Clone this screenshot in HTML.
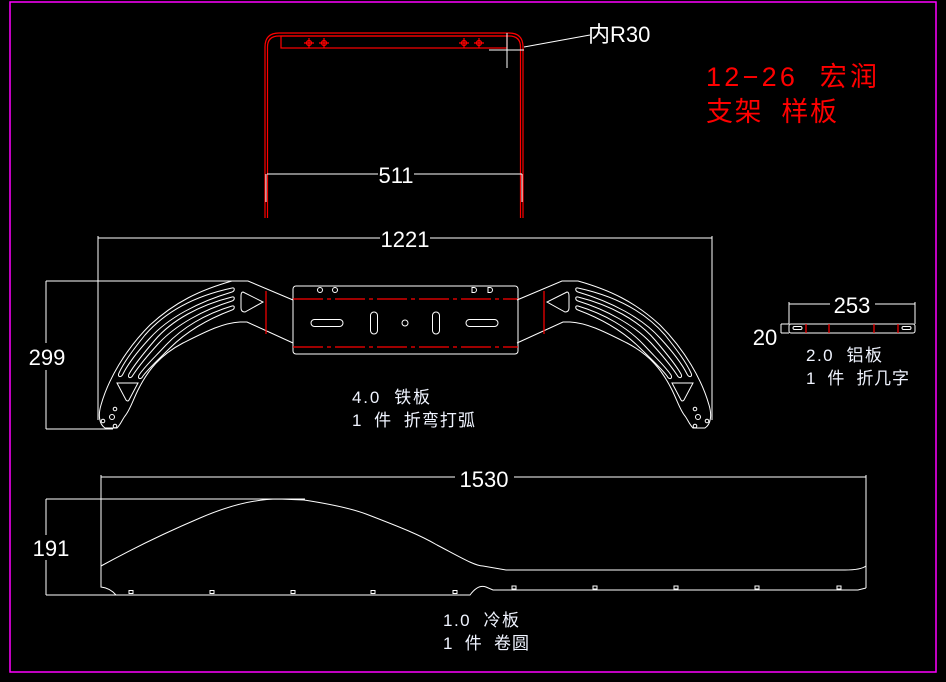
<!DOCTYPE html>
<html><head><meta charset="utf-8"><style>
html,body{margin:0;padding:0;background:#000;}
svg{display:block}
text{font-family:"Liberation Sans","Noto Sans CJK SC",sans-serif;white-space:pre;}
</style></head><body>
<svg width="946" height="682" viewBox="0 0 946 682" xmlns="http://www.w3.org/2000/svg" xml:space="preserve">
<rect width="946" height="682" fill="#000"/>
<rect x="10" y="2" width="926" height="670" fill="none" stroke="#ff00ff" stroke-width="1.5"/>

<!-- Top bracket -->
<g fill="none" stroke="#ff0000" stroke-width="1.2">
 <path d="M265,218 V47 Q265,33 279,33 H509 Q523,33 523,47 V218"/>
 <path d="M267.5,218 V47 Q267.5,36 279,36 H509 Q520.5,36 520.5,47 V218"/>
 <rect x="281" y="36" width="226" height="12"/>
 <g>
  <circle cx="309" cy="43" r="2.5"/><path d="M304,43h10M309,38v10"/>
  <circle cx="324" cy="43" r="2.5"/><path d="M319,43h10M324,38v10"/>
  <circle cx="464" cy="43" r="2.5"/><path d="M459,43h10M464,38v10"/>
  <circle cx="479" cy="43" r="2.5"/><path d="M474,43h10M479,38v10"/>
 </g>
</g>
<g stroke="#fff" stroke-width="1" fill="none">
 <path d="M507,33 V68 M489,50 H524"/>
 <path d="M524,47 L590,35"/>
 <path d="M267,174 H378 M414,174 H522 M266,174 V202 M522,174 V202"/>
</g>
<text x="396" y="183" font-size="22" fill="#fff" text-anchor="middle">511</text>
<text x="588" y="42" font-size="22" fill="#fff">内R30</text>

<text x="706" y="86" font-size="27" fill="#ff0000" textLength="171" lengthAdjust="spacing">12−26  宏润</text>
<text x="706" y="121" font-size="27" fill="#ff0000" textLength="131" lengthAdjust="spacing">支架  样板</text>

<!-- Middle part dims -->
<g stroke="#fff" stroke-width="1" fill="none">
 <path d="M98,238 H380 M430,238 H712 M98,236 V420 M712,236 V420"/>
 <path d="M46,281 H240 M46,429 H113 M46,281 V343 M46,370 V429"/>
</g>
<text x="405" y="247" font-size="22" fill="#fff" text-anchor="middle">1221</text>
<text x="47" y="365" font-size="22" fill="#fff" text-anchor="middle">299</text>

<!-- center plate -->
<g stroke="#fff" stroke-width="1" fill="none">
 <rect x="293" y="286" width="225" height="68" rx="3"/>
 <circle cx="320" cy="290" r="2.5"/><circle cx="335" cy="290" r="2.5"/>
 <path d="M472,287.5h2a2.5,2.5 0 0 1 0,5h-2z M488,287.5h2a2.5,2.5 0 0 1 0,5h-2z"/>
 <rect x="311" y="319.5" width="32" height="7" rx="3.5"/>
 <rect x="466" y="319.5" width="32" height="7" rx="3.5"/>
 <rect x="370.5" y="312" width="7" height="22" rx="3.5"/>
 <rect x="432.5" y="312" width="7" height="22" rx="3.5"/>
 <circle cx="405" cy="323" r="3"/>
</g>
<g stroke="#ff0000" stroke-width="1.2" fill="none">
 <path d="M293,299 H518 M293,347 H518" stroke-dasharray="30,4,4,4"/>
</g>

<!-- arm (left), mirrored for right -->
<g id="arm" stroke="#fff" stroke-width="1" fill="none">
 <path d="M293,300 L248,281 H232 C200,290 175,302 150,325 C125,350 108,380 101,405 C98,415 99,424 105,428 L117,428 C121,424 122,420 125,416 C130,410 133,400 138,390 C148,370 160,355 183,343 C205,332 222,323 240,322 H247 L293,343"/>
 <path d="M243,292 L263,302 L245,312 Q241,312 241,308 V296 Q241,292 243,292 Z"/>
 <path d="M117,383 H138 L129,400 Q128,402 126,400 Z"/>
 <path d="M232,288 C195,296 165,312 145,335 C133,350 124,362 119,373 C117,377 121,378 123,374 C128,364 137,352 150,338 C168,318 198,302 232,292 C235,291 235,287 232,288 Z"/>
 <path d="M232,297 C200,305 172,320 155,340 C143,354 134,365 129,374 C127,378 131,379 133,375 C139,366 147,356 159,343 C176,325 203,310 232,301 C235,300 235,296 232,297 Z"/>
 <path d="M232,306 C205,314 182,328 166,345 C154,358 145,366 139,375 C137,379 141,380 143,376 C149,368 158,360 170,348 C186,332 208,319 232,310 C235,309 235,305 232,306 Z"/>
 <circle cx="115" cy="409" r="1.8"/><circle cx="112" cy="417" r="2.5"/>
 <circle cx="103" cy="421" r="1.8"/><circle cx="115" cy="426" r="1.8"/>
</g>
<use href="#arm" transform="translate(810,0) scale(-1,1)"/>
<g stroke="#ff0000" stroke-width="1.2">
 <path d="M266,291 V334 M544,291 V334"/>
</g>
<text x="352" y="403" font-size="17" fill="#f0f4ff" textLength="78" lengthAdjust="spacing">4.0  铁板</text>
<text x="352" y="426" font-size="17" fill="#f0f4ff" textLength="123" lengthAdjust="spacing">1  件  折弯打弧</text>

<!-- Right part -->
<g stroke="#fff" stroke-width="1" fill="none">
 <path d="M789,304 H830 M875,304 H915 M789,302 V324 M915,302 V324"/>
 <rect x="789" y="324" width="126" height="9" rx="2"/>
 <rect x="793" y="326.5" width="9" height="3" rx="1.5"/>
 <rect x="902" y="326.5" width="9" height="3" rx="1.5"/>
 <path d="M781,324 V333 M781,324 H789 M781,333 H789"/>
</g>
<g stroke="#ff0000" stroke-width="1.2"><path d="M806,324V333 M829,324V333 M874,324V333 M898,324V333"/></g>
<text x="852" y="313" font-size="22" fill="#fff" text-anchor="middle">253</text>
<text x="765" y="345" font-size="22" fill="#fff" text-anchor="middle">20</text>
<text x="806" y="361" font-size="17" fill="#f0f4ff" textLength="76" lengthAdjust="spacing">2.0  铝板</text>
<text x="806" y="384" font-size="17" fill="#f0f4ff" textLength="103" lengthAdjust="spacing">1  件  折几字</text>

<!-- Bottom part -->
<g stroke="#fff" stroke-width="1" fill="none">
 <path d="M101,477 H455 M514,477 H866 M101,475 V566 M866,475 V588"/>
 <path d="M46,499 H305 M46,499 V535 M46,560 V595 M46,595 H116"/>
 <path d="M101,566 C130,550 160,535 200,518 C230,505 255,499 279,499 L304,500 C330,504 350,508 366,514 C400,527 420,535 437,545 C460,557 475,566 483,566 L506,570 H845 C855,570 862,569 866,566"/>
 <path d="M101,566 V587 Q110,588 116,595 H470 Q478,584 486,587 L493,590 H858 L866,588"/>
 <g>
  <rect x="129" y="590.5" width="4" height="3"/><rect x="210" y="590.5" width="4" height="3"/>
  <rect x="291" y="590.5" width="4" height="3"/><rect x="371" y="590.5" width="4" height="3"/>
  <rect x="453" y="590.5" width="4" height="3"/>
  <rect x="512" y="586" width="4" height="3"/><rect x="593" y="586" width="4" height="3"/>
  <rect x="674" y="586" width="4" height="3"/><rect x="755" y="586" width="4" height="3"/>
  <rect x="837" y="586" width="4" height="3"/>
 </g>
</g>
<text x="484" y="487" font-size="22" fill="#fff" text-anchor="middle">1530</text>
<text x="51" y="556" font-size="22" fill="#fff" text-anchor="middle">191</text>
<text x="443" y="626" font-size="17" fill="#f0f4ff" textLength="76" lengthAdjust="spacing">1.0  冷板</text>
<text x="443" y="649" font-size="17" fill="#f0f4ff" textLength="86" lengthAdjust="spacing">1  件  卷圆</text>
</svg>
</body></html>
